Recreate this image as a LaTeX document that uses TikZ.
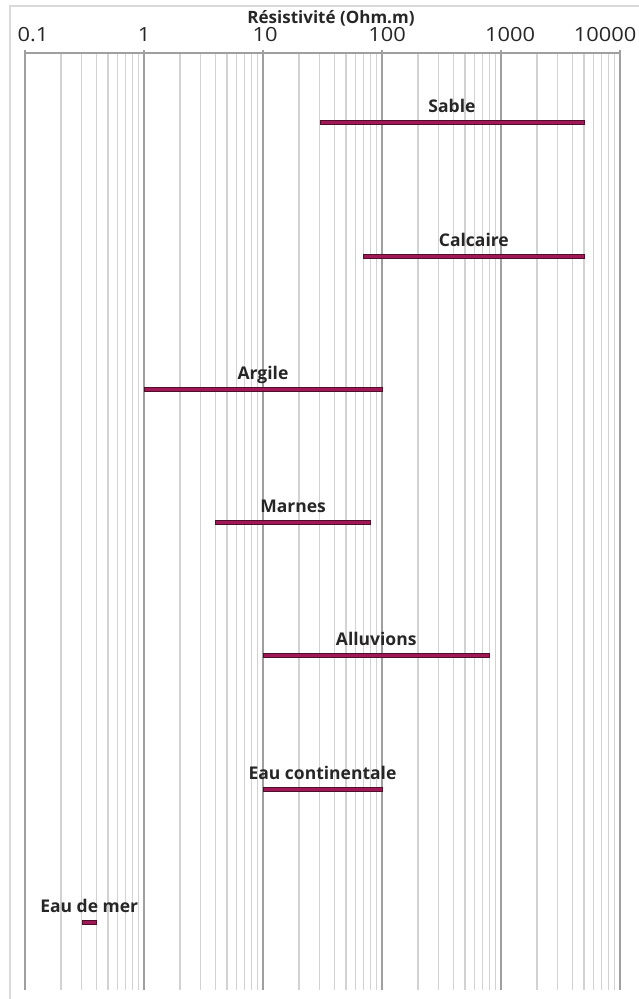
\documentclass[tikz,border=0pt]{standalone}
\usepackage{fontspec}
\setmainfont{Open Sans}
\newfontfamily\tickfont[FakeStretch=1.12]{Open Sans}
\definecolor{barfill}{RGB}{160,24,88}
\definecolor{bardark}{RGB}{80,14,40}
\definecolor{framegray}{RGB}{217,217,217}
\begin{document}
\begin{tikzpicture}[x=1pt,y=-1pt,
  minorline/.style={draw=gray!35,line width=1.4pt},
  majorline/.style={draw=gray!75,line width=1.4pt},
  axisline/.style={draw=gray!75,line width=1.4pt},
  frameline/.style={draw=framegray,line width=1.2pt},
  resbar/.style={fill=barfill,draw=bardark,line width=0.5pt},
  ticklab/.style={anchor=base,inner sep=0pt,font=\tickfont\fontsize{19.5}{19.5}\selectfont,text=black!85},
  barlab/.style={anchor=base,inner sep=0pt,font=\bfseries\fontsize{17.5}{17.5}\selectfont,text=black!85},
  titlelab/.style={anchor=base,inner sep=0pt,font=\bfseries\fontsize{17}{17}\selectfont,text=black!85}]
\useasboundingbox (0,0) rectangle (639,999);
% frame
\draw[frameline] (639,6) -- (10,6) -- (10,999);
% grid
\foreach \d in {0,...,4}{
  \foreach \m in {2,...,9}{
    \draw[minorline] ({25+119*(\d+log10(\m))},53) -- ({25+119*(\d+log10(\m))},990);
  }
}
\foreach \d in {0,...,5}{
  \draw[majorline] ({25+119*\d},50) -- ({25+119*\d},990);
}
\draw[axisline] (25,53) -- (620,53);
% axis labels
\node[titlelab] (title) at (331,23) {Résistivité (Ohm.m)};
\node[ticklab] (t01) at (33,41.5) {0.1};
\node[ticklab] (t1) at (144,41.5) {1};
\node[ticklab] (t10) at (265,41.5) {10};
\node[ticklab] (t100) at (387,41.5) {100};
\node[ticklab] (t1000) at (510,41.5) {1000};
\node[ticklab] (t10000) at (605,41.5) {10000};
% bars: value -> x = 25 + 119*(log10(v)+1)
\foreach \name/\lab/\lo/\hi/\y in {sable/Sable/30/5000/122,
                                   calcaire/Calcaire/70/5000/256,
                                   argile/Argile/1/100/389,
                                   marnes/Marnes/4/80/522,
                                   alluvions/Alluvions/10/800/655,
                                   eaucont/Eau continentale/10/100/789,
                                   eaumer/Eau de mer/0.3/0.4/922}{
  \pgfmathsetmacro{\xa}{25+119*(log10(\lo)+1)}
  \pgfmathsetmacro{\xb}{25+119*(log10(\hi)+1)}
  \draw[resbar] (\xa,\y-2) rectangle (\xb,\y+2);
  \node[barlab] (\name) at ({(\xa+\xb)/2},\y-10) {\lab};
}
\end{tikzpicture}
\end{document}
